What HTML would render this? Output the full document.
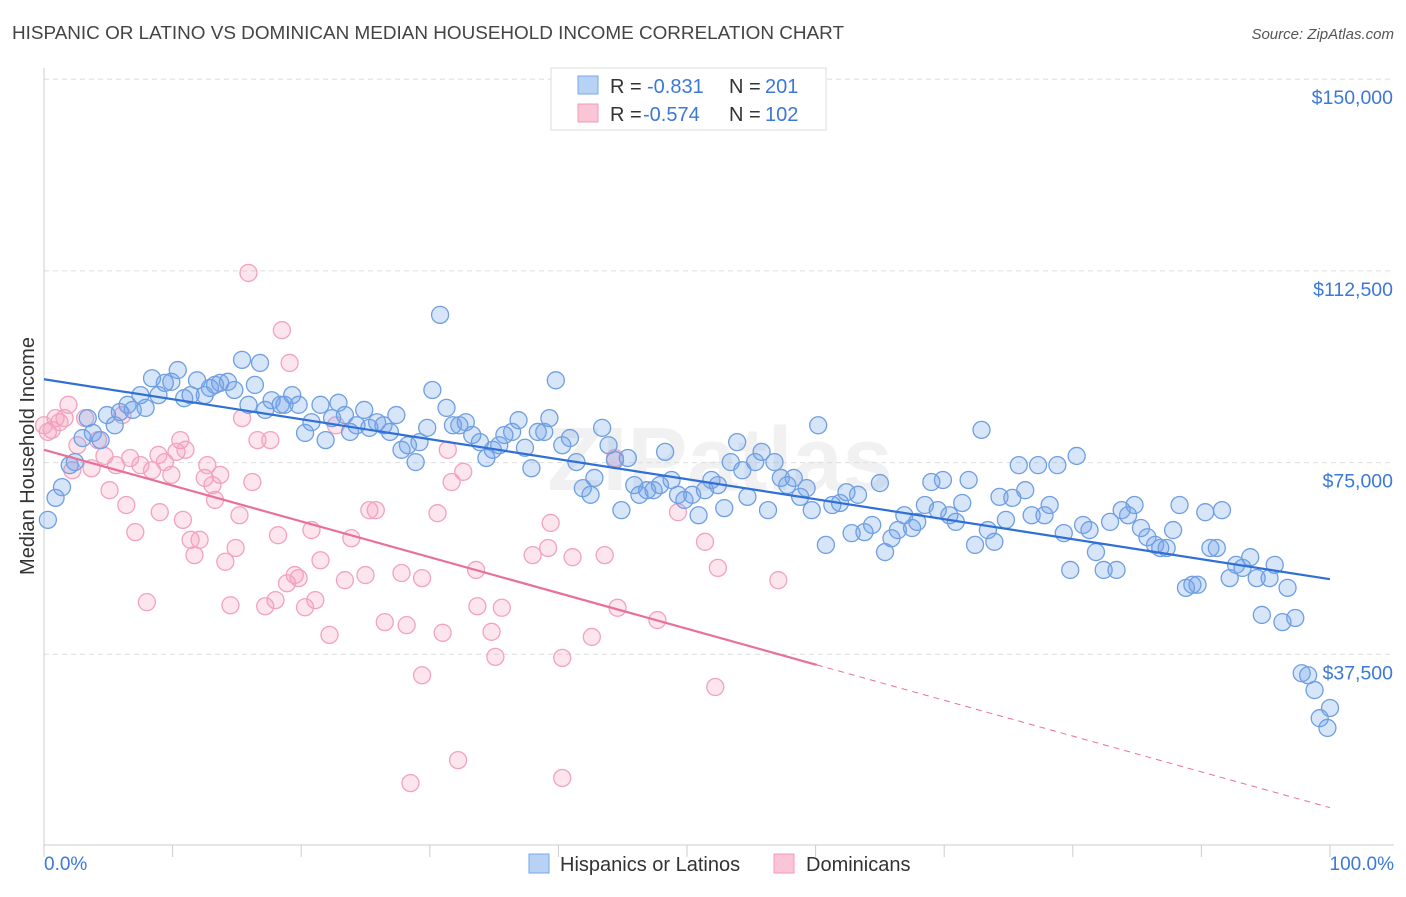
<!DOCTYPE html>
<html><head><meta charset="utf-8"><style>
body{margin:0;background:#fff;font-family:"Liberation Sans",sans-serif}
svg text{font-family:"Liberation Sans",sans-serif}
</style></head><body>
<svg id="c" width="1406" height="892">
<text x="12" y="39" font-size="18.9" fill="#444">HISPANIC OR LATINO VS DOMINICAN MEDIAN HOUSEHOLD INCOME CORRELATION CHART</text>
<text x="1394" y="39" font-size="15" fill="#555" font-style="italic" text-anchor="end">Source: ZipAtlas.com</text>
<text x="720" y="490" font-size="90" fill="#000" opacity="0.05" text-anchor="middle" font-weight="bold">ZIPatlas</text>
<g id="grid"></g>
<g id="pts"></g>
<g id="lines"></g>
<text transform="translate(34,456) rotate(-90)" font-size="20" fill="#333" text-anchor="middle">Median Household Income</text>
<text x="44" y="870" font-size="19" fill="#3b78d8">0.0%</text>
<text x="1394" y="870" font-size="19" fill="#3b78d8" text-anchor="end">100.0%</text>
<g>
<rect x="551" y="68" width="275" height="62" fill="#fff" stroke="#ddd"/>
<rect x="578" y="76" width="20" height="18" fill="#b8d2f6" stroke="#7aa6e6"/>
<rect x="578" y="104" width="20" height="18" fill="#fac6d6" stroke="#f09ab6"/>
<text x="610" y="93" font-size="20" fill="#333">R =</text>
<text x="647" y="93" font-size="20" fill="#3b78d8">-0.831</text>
<text x="729" y="93" font-size="20" fill="#333">N =</text>
<text x="765" y="93" font-size="20" fill="#3b78d8">201</text>
<text x="610" y="121" font-size="20" fill="#333">R =</text>
<text x="643" y="121" font-size="20" fill="#3b78d8">-0.574</text>
<text x="729" y="121" font-size="20" fill="#333">N =</text>
<text x="765" y="121" font-size="20" fill="#3b78d8">102</text>
</g>
<g>
<rect x="529" y="854" width="20" height="19" fill="#b8d2f6" stroke="#7aa6e6"/>
<text x="560" y="871" font-size="20" fill="#333">Hispanics or Latinos</text>
<rect x="774" y="854" width="20" height="19" fill="#fac6d6" stroke="#f09ab6"/>
<text x="806" y="871" font-size="20" fill="#333">Dominicans</text>
</g>
</svg>
<script>
const yTicks=[37500,75000,112500,150000];
const yTickLabels=["$37,500","$75,000","$112,500","$150,000"];
const xTicks=[0,10,20,30,40,50,60,70,80,90,100];
const blueX=[0.3,0.9,1.4,2.0,2.4,3.0,3.4,3.8,4.4,4.9,5.5,5.9,6.5,6.9,7.5,7.9,8.4,8.9,9.4,9.9,10.4,10.9,11.4,11.9,12.5,12.9,13.3,13.7,14.3,14.8,15.4,15.9,16.4,16.8,17.2,17.7,18.4,18.7,19.3,19.8,20.3,20.8,21.5,21.9,22.4,22.9,23.4,23.8,24.3,24.9,25.3,25.9,26.4,26.9,27.4,27.8,28.3,28.9,29.2,29.8,30.2,30.8,31.3,31.8,32.3,32.8,33.3,33.9,34.4,34.9,35.4,35.8,36.4,36.9,37.4,37.9,38.4,38.9,39.3,39.8,40.3,40.9,41.4,41.9,42.5,42.8,43.4,43.9,44.4,44.9,45.4,45.9,46.3,46.9,47.4,47.9,48.3,48.8,49.3,49.8,50.4,50.9,51.4,51.9,52.4,52.9,53.4,53.9,54.3,54.7,55.3,55.8,56.3,56.8,57.3,57.8,58.3,58.8,59.3,59.7,60.2,60.8,61.3,61.9,62.4,62.8,63.3,63.8,64.4,65.0,65.4,65.9,66.4,66.9,67.5,67.9,68.5,69.0,69.5,69.9,70.4,70.9,71.4,71.9,72.4,72.9,73.4,73.9,74.3,74.8,75.3,75.8,76.3,76.8,77.3,77.8,78.2,78.8,79.3,79.8,80.3,80.8,81.3,81.8,82.4,82.9,83.4,83.8,84.3,84.8,85.3,85.8,86.4,86.8,87.3,87.8,88.3,88.8,89.3,89.7,90.3,90.7,91.2,91.6,92.2,92.7,93.2,93.8,94.3,94.7,95.3,95.7,96.3,96.7,97.3,97.8,98.3,98.8,99.2,99.8,100];
const blueY=[63.8,68.1,70.2,74.5,75.1,79.8,83.7,80.8,79.4,84.3,82.3,84.9,86.3,85.3,88.2,85.7,91.5,88.2,90.6,90.8,93.1,87.6,88.2,91.1,88.2,89.6,90.2,90.6,90.8,89.2,95.1,86.3,90.2,94.5,85.3,87.2,86.3,86.3,88.2,86.3,80.8,82.9,86.3,79.4,83.7,86.7,84.3,81.0,82.3,85.3,81.8,82.9,82.3,81.0,84.3,77.5,78.4,75.1,79.0,81.8,89.2,103.9,85.7,82.3,82.3,82.9,80.4,79.0,75.9,77.5,78.4,80.4,81.0,83.3,77.9,73.9,81.0,81.0,83.7,91.1,78.4,79.8,75.1,70.0,68.7,72.0,81.8,78.4,75.5,65.7,75.9,70.6,68.7,69.6,69.6,70.6,77.1,71.6,68.7,67.7,68.7,64.7,69.6,71.6,70.6,66.1,75.1,79.0,73.5,68.3,75.1,77.1,65.7,75.1,72.0,70.6,72.0,68.3,70.0,65.7,82.3,58.9,66.7,67.1,69.2,61.2,68.7,61.4,62.8,71.0,57.5,60.2,61.8,64.7,62.2,63.4,66.7,71.2,65.7,71.6,64.7,63.4,67.1,71.6,58.9,81.4,61.8,59.5,68.3,63.8,68.1,74.5,69.6,64.7,74.5,64.7,66.7,74.5,61.2,54.0,76.3,62.8,61.8,57.5,54.0,63.4,54.0,65.7,64.7,66.7,62.2,60.4,58.9,58.3,58.3,61.8,66.7,50.5,51.1,51.1,65.3,58.3,58.3,65.7,52.4,55.0,54.4,56.5,52.4,45.2,52.4,55.0,43.8,50.5,44.6,33.8,33.4,30.5,25.0,23.1,27.0];
const pinkX=[0,0.3,0.6,0.9,1.2,1.6,1.9,2.2,2.6,3.2,3.7,4.2,4.7,5.1,5.6,6.1,6.4,6.7,7.1,7.5,8.0,8.4,8.9,9.0,9.4,9.9,10.3,10.6,10.8,11.0,11.4,11.7,12.1,12.5,12.7,13.1,13.3,13.7,14.1,14.5,14.9,15.2,15.4,15.9,16.2,16.6,17.2,17.6,18.0,18.2,18.5,18.9,19.1,19.5,19.8,20.3,20.8,21.1,21.5,22.2,22.7,23.4,23.9,25.0,25.3,25.8,26.5,27.8,28.2,29.4,29.4,28.5,30.6,31.0,31.4,31.7,32.2,32.6,33.6,33.7,34.8,35.1,35.6,38.0,39.2,39.4,40.3,40.3,41.1,42.6,43.6,44.4,44.6,47.7,49.3,51.4,52.2,52.4,57.1];
const pinkY=[82.3,81.0,81.4,83.7,82.9,83.7,86.3,73.5,78.4,83.7,73.9,79.4,76.3,69.6,74.5,84.3,66.7,75.9,61.4,74.5,47.7,73.5,76.5,65.3,75.1,72.6,77.1,79.4,63.8,77.5,59.9,56.9,59.9,72.0,74.5,70.6,67.7,72.6,55.6,47.1,58.3,64.7,83.7,112.1,71.2,79.4,46.9,79.4,48.1,60.8,100.9,51.4,94.5,53.0,52.4,46.7,61.8,48.1,55.9,41.3,82.3,52.0,60.2,53.0,65.7,65.7,43.8,53.4,43.2,52.4,33.4,12.3,65.1,41.7,77.5,71.2,16.8,73.2,54.0,46.9,41.9,37.0,46.6,56.9,58.3,63.2,36.8,13.3,56.5,40.9,56.9,75.9,46.6,44.2,65.3,59.5,31.1,54.4,52.0];
const blueFit=[91.3,52.2];
const pinkFit=[77.5,7.5];
const pinkSolidEnd=60.1;
const NS='http://www.w3.org/2000/svg';
const X0=44,X1=1330,YB=846,PPK=191.7/37.5;
function xs(v){return X0+(X1-X0)*v/100;}
function ys(k){return YB-k*PPK;}
function mk(t,a,p){const e=document.createElementNS(NS,t);for(const k in a)e.setAttribute(k,a[k]);p.appendChild(e);return e;}
const grid=document.getElementById('grid');
yTicks.forEach((t,i)=>{
 const y=ys(t/1000);
 const l=mk('line',{x1:44,x2:1394,y1:y,y2:y,stroke:'#ddd','stroke-dasharray':'5,4'},grid);
 
 
 const tx=mk('text',{x:1393,y:y+25,'font-size':19.5,fill:'#3b78d8','text-anchor':'end'},grid);
 tx.textContent=yTickLabels[i];
 
 
});
const ax=mk('line',{x1:44,x2:1394,y1:845,y2:845,stroke:'#ccc'},grid);


const ay=mk('line',{x1:44,x2:44,y1:68,y2:845,stroke:'#ccc'},grid);


xTicks.forEach(t=>{
 const x=xs(t);
 const l=mk('line',{x1:x,x2:x,y1:845,y2:857,stroke:'#ccc'},grid);
 
 
});
const pts=document.getElementById('pts');
pinkX.forEach((v,i)=>{
 const c=mk('circle',{cx:xs(v),cy:ys(pinkY[i]),r:8.5,fill:'rgba(245,160,190,0.28)',stroke:'#f2a2bd','stroke-width':1.3},pts);
 
 
});
blueX.forEach((v,i)=>{
 const c=mk('circle',{cx:xs(v),cy:ys(blueY[i]),r:8.5,fill:'rgba(110,160,235,0.28)',stroke:'#6f9fe2','stroke-width':1.3},pts);
 
 
});
const lines=document.getElementById('lines');
const bl=mk('line',{x1:xs(0),y1:ys(blueFit[0]),x2:xs(100),y2:ys(blueFit[1]),stroke:'#2f6fd6','stroke-width':2.2},lines);


const pm=pinkFit[0]+(pinkFit[1]-pinkFit[0])*pinkSolidEnd/100;
const pl=mk('line',{x1:xs(0),y1:ys(pinkFit[0]),x2:xs(pinkSolidEnd),y2:ys(pm),stroke:'#e8709a','stroke-width':2.2},lines);


const pd=mk('line',{x1:xs(pinkSolidEnd),y1:ys(pm),x2:xs(100),y2:ys(pinkFit[1]),stroke:'#e8709a','stroke-width':1,'stroke-dasharray':'6,5'},lines);


</script>
</body></html>
